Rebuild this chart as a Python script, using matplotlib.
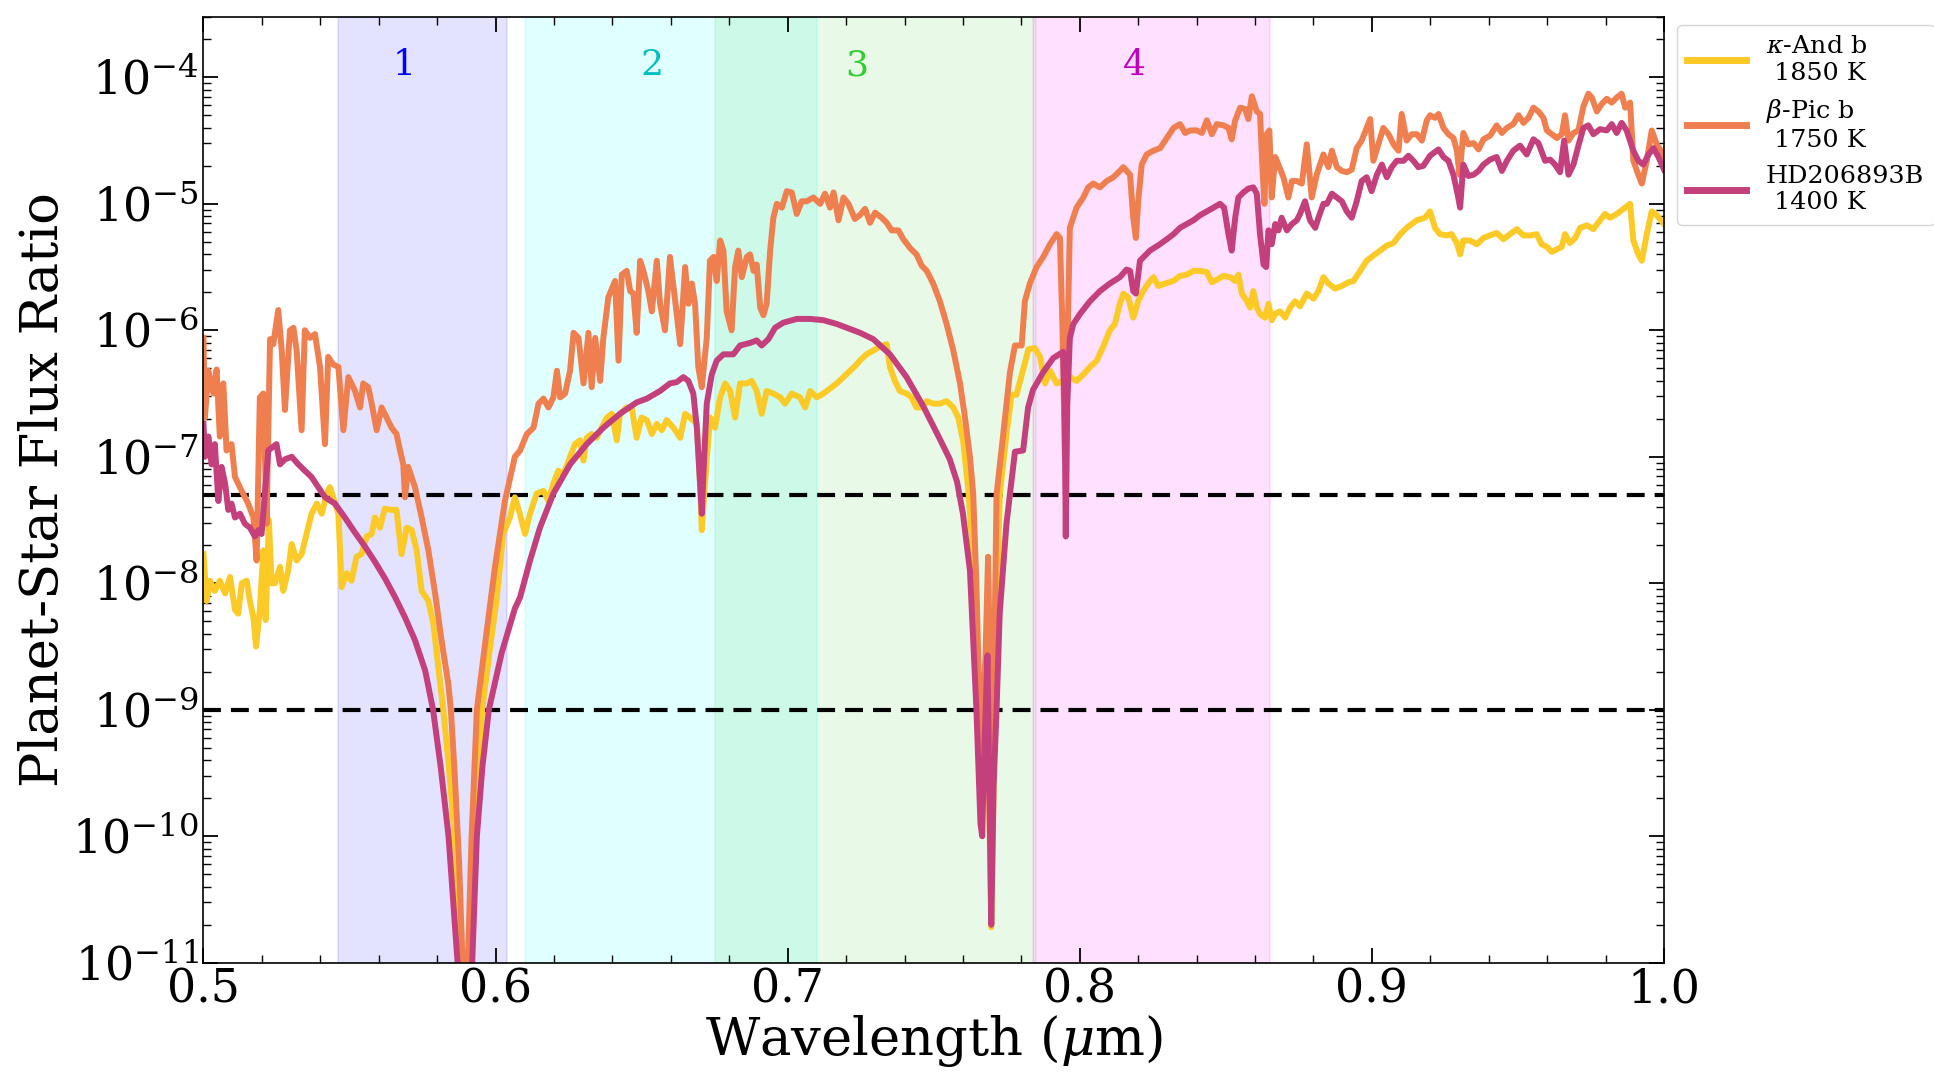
#!/usr/bin/env python3

import numpy as np
import matplotlib
matplotlib.use("Agg")
import matplotlib.pyplot as plt
from matplotlib.ticker import LogLocator, MultipleLocator, NullFormatter

# (wavelength [um], log10 planet-star flux ratio)
kappa_and_b = [
    (0.5000, -7.77), (0.5011, -8.14), (0.5022, -7.98), (0.5039, -8.06), (0.5056, -7.98), (0.5074, -8.08),
    (0.5091, -7.95), (0.5108, -8.21), (0.5119, -8.24), (0.5131, -8.00), (0.5148, -7.98), (0.5159, -8.14),
    (0.5171, -8.27), (0.5180, -8.50), (0.5193, -8.21), (0.5205, -7.74), (0.5213, -8.29), (0.5224, -7.50),
    (0.5233, -8.00), (0.5245, -8.00), (0.5262, -7.87), (0.5273, -8.06), (0.5290, -7.90), (0.5302, -7.69),
    (0.5319, -7.82), (0.5336, -7.77), (0.5353, -7.61), (0.5370, -7.45), (0.5388, -7.37), (0.5405, -7.45),
    (0.5422, -7.29), (0.5433, -7.24), (0.5444, -7.32), (0.5462, -7.45), (0.5473, -8.03), (0.5490, -7.92),
    (0.5507, -7.98), (0.5524, -7.79), (0.5541, -7.77), (0.5559, -7.63), (0.5576, -7.61), (0.5587, -7.48),
    (0.5604, -7.56), (0.5621, -7.41), (0.5644, -7.42), (0.5661, -7.42), (0.5678, -7.77), (0.5696, -7.56),
    (0.5713, -7.58), (0.5730, -7.74), (0.5747, -8.06), (0.5770, -8.14), (0.5787, -8.32), (0.5804, -8.66),
    (0.5821, -9.00), (0.5840, -9.45), (0.5860, -10.0), (0.5880, -11.0), (0.5896, -12.5), (0.5910, -11.0),
    (0.5930, -10.0), (0.5954, -9.00), (0.5980, -8.53), (0.6003, -8.14), (0.6026, -7.61), (0.6049, -7.48),
    (0.6066, -7.32), (0.6083, -7.45), (0.6101, -7.61), (0.6118, -7.45), (0.6141, -7.29), (0.6164, -7.27),
    (0.6181, -7.35), (0.6198, -7.21), (0.6215, -7.11), (0.6232, -7.14), (0.6255, -7.00), (0.6272, -6.90),
    (0.6289, -6.87), (0.6301, -7.03), (0.6312, -6.85), (0.6329, -6.82), (0.6346, -6.85), (0.6363, -6.77),
    (0.6381, -6.69), (0.6398, -6.66), (0.6415, -6.87), (0.6426, -6.66), (0.6449, -6.61), (0.6466, -6.61),
    (0.6483, -6.85), (0.6500, -6.69), (0.6518, -6.71), (0.6535, -6.82), (0.6552, -6.74), (0.6569, -6.79),
    (0.6586, -6.71), (0.6609, -6.77), (0.6632, -6.85), (0.6649, -6.66), (0.6666, -6.69), (0.6689, -6.74),
    (0.6700, -7.21), (0.6706, -7.58), (0.6717, -7.21), (0.6734, -6.69), (0.6751, -6.77), (0.6769, -6.53),
    (0.6786, -6.42), (0.6803, -6.48), (0.6820, -6.69), (0.6837, -6.42), (0.6860, -6.42), (0.6877, -6.40),
    (0.6894, -6.48), (0.6911, -6.66), (0.6928, -6.48), (0.6951, -6.50), (0.6974, -6.53), (0.6991, -6.58),
    (0.7014, -6.50), (0.7042, -6.53), (0.7060, -6.61), (0.7077, -6.48), (0.7100, -6.53), (0.7122, -6.50),
    (0.7145, -6.46), (0.7168, -6.42), (0.7191, -6.37), (0.7214, -6.32), (0.7236, -6.27), (0.7247, -6.24),
    (0.7270, -6.19), (0.7293, -6.16), (0.7316, -6.13), (0.7339, -6.11), (0.7350, -6.29), (0.7367, -6.40),
    (0.7384, -6.48), (0.7407, -6.50), (0.7424, -6.53), (0.7441, -6.61), (0.7459, -6.61), (0.7476, -6.56),
    (0.7498, -6.58), (0.7521, -6.58), (0.7544, -6.56), (0.7567, -6.61), (0.7584, -6.69), (0.7601, -6.88),
    (0.7618, -7.25), (0.7632, -7.70), (0.7646, -8.55), (0.7666, -9.50), (0.7684, -8.90), (0.7697, -10.72),
    (0.7712, -8.60), (0.7726, -7.30), (0.7749, -6.82), (0.7766, -6.51), (0.7783, -6.51), (0.7812, -6.26),
    (0.7824, -6.15), (0.7846, -6.14), (0.7864, -6.21), (0.7881, -6.42), (0.7898, -6.32), (0.7921, -6.42),
    (0.7943, -6.40), (0.7966, -6.37), (0.7989, -6.40), (0.8012, -6.35), (0.8035, -6.29), (0.8058, -6.24),
    (0.8080, -6.13), (0.8103, -6.00), (0.8120, -5.95), (0.8137, -5.79), (0.8149, -5.71), (0.8166, -5.74),
    (0.8183, -5.90), (0.8200, -5.77), (0.8217, -5.69), (0.8234, -5.63), (0.8252, -5.58), (0.8269, -5.65),
    (0.8292, -5.63), (0.8320, -5.61), (0.8343, -5.57), (0.8366, -5.56), (0.8389, -5.53), (0.8412, -5.53),
    (0.8435, -5.54), (0.8452, -5.62), (0.8469, -5.60), (0.8492, -5.57), (0.8515, -5.58), (0.8532, -5.61),
    (0.8543, -5.56), (0.8555, -5.71), (0.8572, -5.77), (0.8583, -5.82), (0.8594, -5.69), (0.8606, -5.82),
    (0.8617, -5.87), (0.8634, -5.90), (0.8646, -5.79), (0.8657, -5.92), (0.8669, -5.87), (0.8686, -5.85),
    (0.8703, -5.90), (0.8720, -5.82), (0.8737, -5.77), (0.8754, -5.81), (0.8777, -5.71), (0.8800, -5.75),
    (0.8817, -5.69), (0.8834, -5.58), (0.8851, -5.63), (0.8874, -5.67), (0.8897, -5.65), (0.8920, -5.62),
    (0.8937, -5.61), (0.8960, -5.53), (0.8982, -5.45), (0.9005, -5.41), (0.9028, -5.37), (0.9051, -5.33),
    (0.9074, -5.31), (0.9097, -5.24), (0.9119, -5.19), (0.9136, -5.16), (0.9154, -5.13), (0.9182, -5.11),
    (0.9199, -5.06), (0.9216, -5.19), (0.9233, -5.24), (0.9256, -5.25), (0.9273, -5.24), (0.9291, -5.31),
    (0.9302, -5.40), (0.9313, -5.29), (0.9336, -5.29), (0.9359, -5.32), (0.9382, -5.27), (0.9405, -5.25),
    (0.9427, -5.23), (0.9450, -5.28), (0.9473, -5.24), (0.9496, -5.20), (0.9519, -5.25), (0.9542, -5.25),
    (0.9564, -5.24), (0.9581, -5.32), (0.9599, -5.34), (0.9616, -5.38), (0.9633, -5.36), (0.9650, -5.34),
    (0.9661, -5.24), (0.9678, -5.31), (0.9696, -5.27), (0.9713, -5.19), (0.9736, -5.17), (0.9758, -5.20),
    (0.9781, -5.13), (0.9798, -5.08), (0.9815, -5.11), (0.9832, -5.09), (0.9850, -5.06), (0.9867, -5.03),
    (0.9884, -5.00), (0.9895, -5.29), (0.9912, -5.40), (0.9924, -5.45), (0.9941, -5.24), (0.9958, -5.06),
    (0.9975, -5.09), (1.0000, -5.16),
]

beta_pic_b = [
    (0.5000, -6.06), (0.5005, -6.69), (0.5017, -6.32), (0.5034, -6.50), (0.5045, -6.31), (0.5056, -6.84),
    (0.5068, -6.42), (0.5079, -6.95), (0.5096, -6.90), (0.5108, -7.16), (0.5131, -7.27), (0.5153, -7.37),
    (0.5171, -7.48), (0.5182, -7.82), (0.5193, -6.53), (0.5205, -6.50), (0.5216, -7.53), (0.5228, -6.07),
    (0.5239, -6.11), (0.5256, -5.84), (0.5268, -6.16), (0.5279, -6.63), (0.5296, -6.00), (0.5308, -5.98),
    (0.5319, -6.16), (0.5336, -6.79), (0.5347, -6.00), (0.5365, -6.06), (0.5382, -6.03), (0.5399, -6.29),
    (0.5416, -6.90), (0.5427, -6.21), (0.5444, -6.27), (0.5462, -6.29), (0.5479, -6.79), (0.5496, -6.37),
    (0.5519, -6.48), (0.5536, -6.61), (0.5547, -6.42), (0.5564, -6.45), (0.5576, -6.58), (0.5593, -6.79),
    (0.5610, -6.61), (0.5627, -6.69), (0.5644, -6.77), (0.5661, -6.82), (0.5673, -6.95), (0.5684, -7.06),
    (0.5690, -7.32), (0.5701, -7.08), (0.5724, -7.24), (0.5747, -7.48), (0.5770, -7.74), (0.5793, -8.08),
    (0.5815, -8.45), (0.5838, -8.79), (0.5847, -9.00), (0.5860, -9.50), (0.5875, -10.2), (0.5887, -11.0),
    (0.5896, -12.0), (0.5905, -11.0), (0.5918, -10.0), (0.5936, -9.00), (0.5964, -8.48), (0.5998, -7.87),
    (0.6032, -7.35), (0.6066, -7.00), (0.6084, -6.95), (0.6107, -6.82), (0.6130, -6.77), (0.6147, -6.58),
    (0.6164, -6.54), (0.6181, -6.61), (0.6198, -6.53), (0.6210, -6.32), (0.6221, -6.53), (0.6238, -6.50),
    (0.6255, -6.32), (0.6267, -6.02), (0.6284, -6.06), (0.6301, -6.42), (0.6318, -6.02), (0.6329, -6.45),
    (0.6341, -6.06), (0.6358, -6.40), (0.6369, -6.06), (0.6386, -5.74), (0.6409, -5.61), (0.6421, -6.24),
    (0.6432, -5.56), (0.6449, -5.53), (0.6461, -5.69), (0.6472, -5.71), (0.6483, -6.02), (0.6495, -5.45),
    (0.6506, -5.53), (0.6523, -5.69), (0.6535, -5.85), (0.6552, -5.45), (0.6563, -5.79), (0.6580, -6.00),
    (0.6597, -5.42), (0.6615, -5.77), (0.6632, -6.11), (0.6649, -5.50), (0.6660, -5.79), (0.6672, -5.63),
    (0.6683, -5.79), (0.6694, -6.29), (0.6706, -6.45), (0.6723, -6.06), (0.6734, -5.45), (0.6746, -5.42),
    (0.6757, -5.61), (0.6769, -5.29), (0.6780, -5.37), (0.6791, -5.85), (0.6808, -6.00), (0.6820, -5.50),
    (0.6831, -5.37), (0.6843, -5.58), (0.6860, -5.42), (0.6871, -5.40), (0.6883, -5.53), (0.6894, -5.48),
    (0.6906, -5.82), (0.6917, -5.88), (0.6928, -5.79), (0.6940, -5.37), (0.6951, -5.11), (0.6963, -5.00),
    (0.6980, -5.03), (0.6997, -4.90), (0.7014, -4.91), (0.7031, -5.08), (0.7048, -4.98), (0.7065, -4.98),
    (0.7088, -4.95), (0.7111, -5.00), (0.7128, -4.92), (0.7145, -5.03), (0.7157, -4.91), (0.7174, -5.13),
    (0.7191, -4.95), (0.7208, -5.00), (0.7230, -5.12), (0.7247, -5.09), (0.7265, -5.04), (0.7282, -5.15),
    (0.7299, -5.07), (0.7322, -5.11), (0.7339, -5.15), (0.7356, -5.21), (0.7379, -5.21), (0.7396, -5.28),
    (0.7419, -5.35), (0.7441, -5.40), (0.7459, -5.49), (0.7476, -5.53), (0.7498, -5.63), (0.7521, -5.77),
    (0.7544, -5.95), (0.7567, -6.16), (0.7590, -6.42), (0.7607, -6.69), (0.7624, -7.00), (0.7635, -7.29),
    (0.7646, -8.00), (0.7660, -9.30), (0.7677, -8.60), (0.7686, -7.79), (0.7692, -8.60), (0.7703, -9.30),
    (0.7715, -7.30), (0.7738, -6.82), (0.7761, -6.33), (0.7778, -6.12), (0.7801, -6.12), (0.7812, -5.77),
    (0.7829, -5.63), (0.7852, -5.50), (0.7875, -5.42), (0.7898, -5.32), (0.7921, -5.24), (0.7932, -5.27),
    (0.7941, -6.00), (0.7949, -7.00), (0.7957, -6.20), (0.7966, -5.19), (0.7989, -5.03), (0.8012, -4.95),
    (0.8029, -4.87), (0.8046, -4.84), (0.8069, -4.87), (0.8092, -4.82), (0.8115, -4.79), (0.8137, -4.74),
    (0.8149, -4.71), (0.8172, -4.77), (0.8183, -5.11), (0.8192, -5.27), (0.8200, -4.98), (0.8212, -4.69),
    (0.8229, -4.61), (0.8252, -4.58), (0.8275, -4.56), (0.8298, -4.48), (0.8321, -4.40), (0.8343, -4.37),
    (0.8361, -4.44), (0.8378, -4.42), (0.8401, -4.42), (0.8418, -4.44), (0.8435, -4.34), (0.8452, -4.45),
    (0.8469, -4.37), (0.8492, -4.38), (0.8509, -4.40), (0.8520, -4.49), (0.8532, -4.34), (0.8549, -4.24),
    (0.8566, -4.25), (0.8577, -4.33), (0.8589, -4.15), (0.8606, -4.27), (0.8617, -4.29), (0.8625, -4.70),
    (0.8632, -5.00), (0.8640, -4.45), (0.8649, -4.42), (0.8657, -4.95), (0.8669, -4.63), (0.8680, -4.69),
    (0.8697, -4.79), (0.8714, -4.95), (0.8726, -4.82), (0.8743, -4.82), (0.8760, -4.84), (0.8777, -4.53),
    (0.8794, -4.95), (0.8811, -4.77), (0.8834, -4.61), (0.8851, -4.71), (0.8863, -4.58), (0.8880, -4.71),
    (0.8897, -4.74), (0.8914, -4.75), (0.8931, -4.73), (0.8948, -4.56), (0.8965, -4.50), (0.8982, -4.40),
    (0.8994, -4.33), (0.9005, -4.66), (0.9022, -4.53), (0.9039, -4.40), (0.9057, -4.45), (0.9074, -4.53),
    (0.9091, -4.58), (0.9102, -4.29), (0.9119, -4.50), (0.9136, -4.45), (0.9154, -4.45), (0.9171, -4.50),
    (0.9188, -4.34), (0.9199, -4.30), (0.9216, -4.32), (0.9228, -4.29), (0.9245, -4.40), (0.9262, -4.45),
    (0.9279, -4.48), (0.9291, -4.58), (0.9300, -4.77), (0.9313, -4.44), (0.9330, -4.53), (0.9348, -4.52),
    (0.9365, -4.57), (0.9382, -4.49), (0.9405, -4.46), (0.9427, -4.38), (0.9445, -4.44), (0.9462, -4.40),
    (0.9484, -4.37), (0.9502, -4.30), (0.9519, -4.36), (0.9536, -4.32), (0.9553, -4.24), (0.9570, -4.27),
    (0.9587, -4.32), (0.9599, -4.42), (0.9616, -4.45), (0.9633, -4.48), (0.9650, -4.45), (0.9661, -4.30),
    (0.9673, -4.50), (0.9690, -4.44), (0.9707, -4.42), (0.9724, -4.23), (0.9741, -4.13), (0.9753, -4.16),
    (0.9770, -4.27), (0.9787, -4.21), (0.9804, -4.17), (0.9821, -4.20), (0.9838, -4.16), (0.9855, -4.13),
    (0.9867, -4.24), (0.9884, -4.20), (0.9895, -4.66), (0.9912, -4.77), (0.9924, -4.84), (0.9941, -4.66),
    (0.9958, -4.42), (0.9975, -4.53), (1.0000, -4.62),
]

hd206893b = [
    (0.5000, -6.74), (0.5005, -7.00), (0.5017, -6.84), (0.5028, -7.06), (0.5039, -6.90), (0.5051, -7.35),
    (0.5062, -7.08), (0.5074, -7.21), (0.5085, -7.42), (0.5096, -7.37), (0.5108, -7.48), (0.5125, -7.45),
    (0.5142, -7.53), (0.5159, -7.56), (0.5176, -7.63), (0.5188, -7.58), (0.5199, -7.61), (0.5211, -7.27),
    (0.5222, -6.95), (0.5239, -6.92), (0.5250, -6.90), (0.5262, -7.06), (0.5279, -7.02), (0.5302, -7.00),
    (0.5325, -7.06), (0.5347, -7.11), (0.5370, -7.16), (0.5393, -7.24), (0.5416, -7.32), (0.5450, -7.37),
    (0.5484, -7.48), (0.5519, -7.60), (0.5553, -7.71), (0.5587, -7.83), (0.5621, -7.96), (0.5656, -8.11),
    (0.5690, -8.27), (0.5724, -8.45), (0.5759, -8.69), (0.5786, -9.00), (0.5812, -9.45), (0.5839, -10.0),
    (0.5870, -11.0), (0.5885, -11.8), (0.5896, -12.5), (0.5905, -11.8), (0.5920, -11.0), (0.5936, -10.0),
    (0.5955, -9.45), (0.5977, -9.00), (0.6021, -8.55), (0.6066, -8.20), (0.6084, -8.11), (0.6118, -7.82),
    (0.6152, -7.56), (0.6198, -7.29), (0.6255, -7.06), (0.6312, -6.90), (0.6369, -6.77), (0.6426, -6.66),
    (0.6483, -6.57), (0.6518, -6.54), (0.6563, -6.48), (0.6597, -6.42), (0.6620, -6.41), (0.6643, -6.37),
    (0.6660, -6.40), (0.6677, -6.50), (0.6689, -6.77), (0.6700, -7.21), (0.6706, -7.45), (0.6712, -7.11),
    (0.6723, -6.58), (0.6740, -6.35), (0.6757, -6.24), (0.6780, -6.19), (0.6814, -6.19), (0.6837, -6.12),
    (0.6871, -6.10), (0.6894, -6.08), (0.6911, -6.12), (0.6934, -6.07), (0.6957, -5.98), (0.6985, -5.94),
    (0.7031, -5.91), (0.7077, -5.91), (0.7122, -5.92), (0.7168, -5.95), (0.7202, -5.98), (0.7248, -6.02),
    (0.7293, -6.07), (0.7350, -6.19), (0.7407, -6.37), (0.7464, -6.60), (0.7521, -6.86), (0.7555, -7.02),
    (0.7580, -7.20), (0.7600, -7.45), (0.7624, -7.90), (0.7646, -8.99), (0.7660, -9.90), (0.7666, -10.0),
    (0.7672, -9.40), (0.7684, -8.57), (0.7690, -9.60), (0.7697, -10.7), (0.7705, -9.60), (0.7715, -9.00),
    (0.7726, -8.23), (0.7749, -7.53), (0.7778, -6.96), (0.7806, -6.95), (0.7823, -6.61), (0.7840, -6.47),
    (0.7875, -6.33), (0.7909, -6.22), (0.7943, -6.17), (0.7948, -6.60), (0.7952, -7.63), (0.7957, -6.60),
    (0.7966, -6.06), (0.7978, -5.95), (0.8001, -5.87), (0.8035, -5.77), (0.8069, -5.69), (0.8103, -5.63),
    (0.8137, -5.58), (0.8160, -5.52), (0.8172, -5.53), (0.8183, -5.69), (0.8192, -5.71), (0.8206, -5.45),
    (0.8240, -5.37), (0.8274, -5.32), (0.8298, -5.28), (0.8321, -5.24), (0.8343, -5.19), (0.8366, -5.16),
    (0.8389, -5.13), (0.8412, -5.09), (0.8435, -5.06), (0.8458, -5.03), (0.8480, -5.00), (0.8494, -5.03),
    (0.8509, -5.24), (0.8520, -5.37), (0.8532, -5.11), (0.8543, -4.95), (0.8560, -4.91), (0.8577, -4.88),
    (0.8594, -4.87), (0.8606, -4.92), (0.8617, -5.24), (0.8629, -5.48), (0.8638, -5.50), (0.8646, -5.21),
    (0.8657, -5.32), (0.8669, -5.16), (0.8680, -5.21), (0.8691, -5.11), (0.8709, -5.21), (0.8726, -5.16),
    (0.8743, -5.13), (0.8754, -5.08), (0.8771, -4.98), (0.8788, -5.13), (0.8806, -5.19), (0.8817, -5.11),
    (0.8834, -5.00), (0.8846, -5.00), (0.8863, -4.92), (0.8880, -4.95), (0.8897, -4.98), (0.8914, -5.06),
    (0.8931, -5.11), (0.8948, -4.98), (0.8965, -4.82), (0.8982, -4.79), (0.8999, -4.90), (0.9017, -4.77),
    (0.9034, -4.69), (0.9051, -4.79), (0.9068, -4.71), (0.9085, -4.66), (0.9108, -4.66), (0.9125, -4.62),
    (0.9142, -4.66), (0.9159, -4.71), (0.9176, -4.70), (0.9199, -4.62), (0.9216, -4.59), (0.9228, -4.57),
    (0.9245, -4.63), (0.9262, -4.66), (0.9279, -4.77), (0.9293, -4.92), (0.9302, -5.03), (0.9313, -4.69),
    (0.9330, -4.78), (0.9348, -4.77), (0.9365, -4.74), (0.9382, -4.69), (0.9405, -4.65), (0.9427, -4.63),
    (0.9445, -4.74), (0.9462, -4.66), (0.9484, -4.58), (0.9507, -4.54), (0.9530, -4.61), (0.9553, -4.49),
    (0.9570, -4.52), (0.9593, -4.66), (0.9610, -4.65), (0.9627, -4.69), (0.9644, -4.75), (0.9658, -4.50),
    (0.9673, -4.77), (0.9690, -4.69), (0.9707, -4.54), (0.9724, -4.40), (0.9741, -4.38), (0.9758, -4.45),
    (0.9781, -4.41), (0.9804, -4.42), (0.9821, -4.37), (0.9838, -4.44), (0.9855, -4.36), (0.9872, -4.42),
    (0.9895, -4.58), (0.9912, -4.66), (0.9929, -4.69), (0.9947, -4.61), (0.9964, -4.56), (0.9981, -4.63),
    (1.0000, -4.73),
]

series_labels = ["$\\kappa$-And b\n 1850 K", "$\\beta$-Pic b\n 1750 K", "HD206893B\n 1400 K"]
series_colors = ["#fcca26", "#f07f4f", "#c4407c"]

# filter bands (micron)
band_names = ["1", "2", "3", "4"]
band_starts = [0.546, 0.610, 0.675, 0.784]
band_ends = [0.604, 0.710, 0.785, 0.865]
band_fill = ["blue", "cyan", "limegreen", "magenta"]
band_alpha = [0.11, 0.12, 0.11, 0.12]
band_text_colors = ["b", "c", "limegreen", "m"]
band_label_x = [0.5688, 0.6537, 0.7238, 0.8188]
band_label_y = 1.25e-4

contrast_levels = [5e-8, 1e-9]


def unpack(spectrum):
    wl = np.array([p[0] for p in spectrum])
    flux = 10.0 ** np.array([p[1] for p in spectrum])
    return wl, flux


def main():
    plt.rcParams["font.family"] = "serif"
    plt.rcParams["font.serif"] = ["DejaVu Serif"]
    plt.rcParams["mathtext.fontset"] = "dejavuserif"

    fig = plt.figure(figsize=(19.34, 10.74), dpi=100)
    ax = fig.add_axes([0.1052, 0.1036, 0.7552, 0.8806])

    for start, end, fc, a in zip(band_starts, band_ends, band_fill, band_alpha):
        ax.axvspan(start, end, color=fc, alpha=a, lw=1.2, zorder=0)
    for name, x, c in zip(band_names, band_label_x, band_text_colors):
        ax.text(x, band_label_y, name, color=c, fontsize=26, ha="center", va="center")

    for level in contrast_levels:
        ax.axhline(level, color="black", lw=3, linestyle=(0, (4.3, 2.4)), zorder=1)

    for spec, label, color in zip([kappa_and_b, beta_pic_b, hd206893b], series_labels, series_colors):
        wl, flux = unpack(spec)
        ax.plot(wl, flux, color=color, lw=4.3, label=label, zorder=2)

    ax.set_yscale("log")
    ax.set_xlim(0.5, 1.0)
    ax.set_ylim(1e-11, 3e-4)
    ax.xaxis.set_major_locator(MultipleLocator(0.1))
    ax.xaxis.set_minor_locator(MultipleLocator(0.02))
    ax.yaxis.set_major_locator(LogLocator(base=10, numticks=20))
    ax.yaxis.set_minor_locator(LogLocator(base=10, subs=np.arange(2, 10), numticks=20))
    ax.yaxis.set_minor_formatter(NullFormatter())

    ax.tick_params(which="both", direction="in", top=True, right=True, labelsize=33)
    ax.tick_params(which="major", length=11, width=1.3)
    ax.tick_params(which="minor", length=5.5, width=1.0)
    for sp in ax.spines.values():
        sp.set_linewidth(1.2)

    ax.set_xlabel("Wavelength ($\\mu$m)", fontsize=38, labelpad=0)
    ax.set_ylabel("Planet-Star Flux Ratio", fontsize=38, labelpad=2)

    leg = ax.legend(loc="upper left", bbox_to_anchor=(1.009, 0.9915), borderaxespad=0,
                    fontsize=18.3, handlelength=2.3)
    for line in leg.get_lines():
        line.set_linewidth(5)

    plt.savefig("out.png", dpi=100)


if __name__ == "__main__":
    main()
